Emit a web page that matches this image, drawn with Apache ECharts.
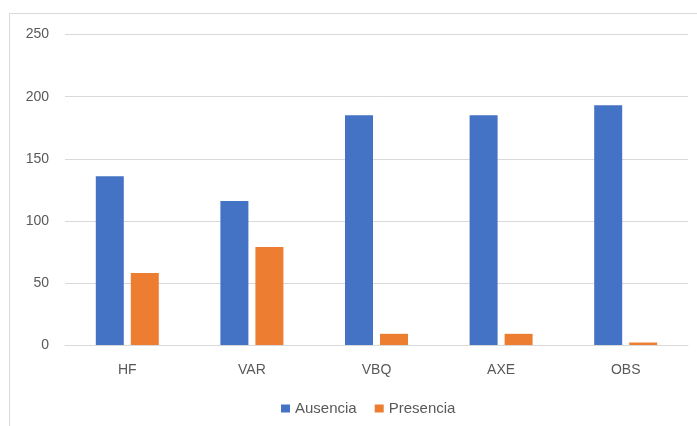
<!DOCTYPE html>
<html>
<head>
<meta charset="utf-8">
<script src="https://cdn.jsdelivr.net/npm/echarts@6/dist/echarts.min.js"></script>
<style>
  html, body { margin: 0; padding: 0; background: #fff; }
  #chart { width: 697px; height: 426px; }
</style>
</head>
<body>
<div id="chart"></div>
<script>
// Categories and counts per group
var categories = ['HF', 'VAR', 'VBQ', 'AXE', 'OBS'];
var ausencia = [136, 116, 185, 185, 193];
var presencia = [58, 79, 9, 9, 2];
var yTicks = { min: 0, max: 250, interval: 50 };

var fontFamily = '"Liberation Sans", Arial, sans-serif';
var textColor = '#595959';

var chart = echarts.init(document.getElementById('chart'));
chart.setOption({
  animation: false,
  backgroundColor: '#ffffff',
  graphic: [{
    type: 'rect',
    shape: { x: 9.5, y: 13.5, width: 700, height: 420 },
    style: { fill: 'none', stroke: '#d9d9d9', lineWidth: 1 },
    silent: true
  }],
  grid: { left: 65, right: 9, top: 34.6, bottom: 81, containLabel: false },
  legend: {
    top: 396,
    left: 276,
    itemWidth: 9,
    itemHeight: 8,
    itemGap: 18,
    icon: 'rect',
    textStyle: { color: textColor, fontSize: 15, fontFamily: fontFamily },
    data: ['Ausencia', 'Presencia']
  },
  xAxis: {
    type: 'category',
    data: categories,
    axisLine: { lineStyle: { color: '#d9d9d9', width: 1 } },
    axisTick: { show: false },
    axisLabel: { color: textColor, fontSize: 14, fontFamily: fontFamily, margin: 18 }
  },
  yAxis: {
    type: 'value',
    min: yTicks.min,
    max: yTicks.max,
    interval: yTicks.interval,
    axisLine: { show: false },
    axisTick: { show: false },
    splitLine: { lineStyle: { color: '#d9d9d9', width: 1 } },
    axisLabel: { color: textColor, fontSize: 14, fontFamily: fontFamily, margin: 16 }
  },
  series: [
    {
      name: 'Ausencia',
      type: 'bar',
      data: ausencia,
      barWidth: 28,
      barGap: '25%',
      itemStyle: { color: '#4472C4' }
    },
    {
      name: 'Presencia',
      type: 'bar',
      data: presencia,
      barWidth: 28,
      itemStyle: { color: '#ED7D31' }
    }
  ]
});
</script>
</body>
</html>
